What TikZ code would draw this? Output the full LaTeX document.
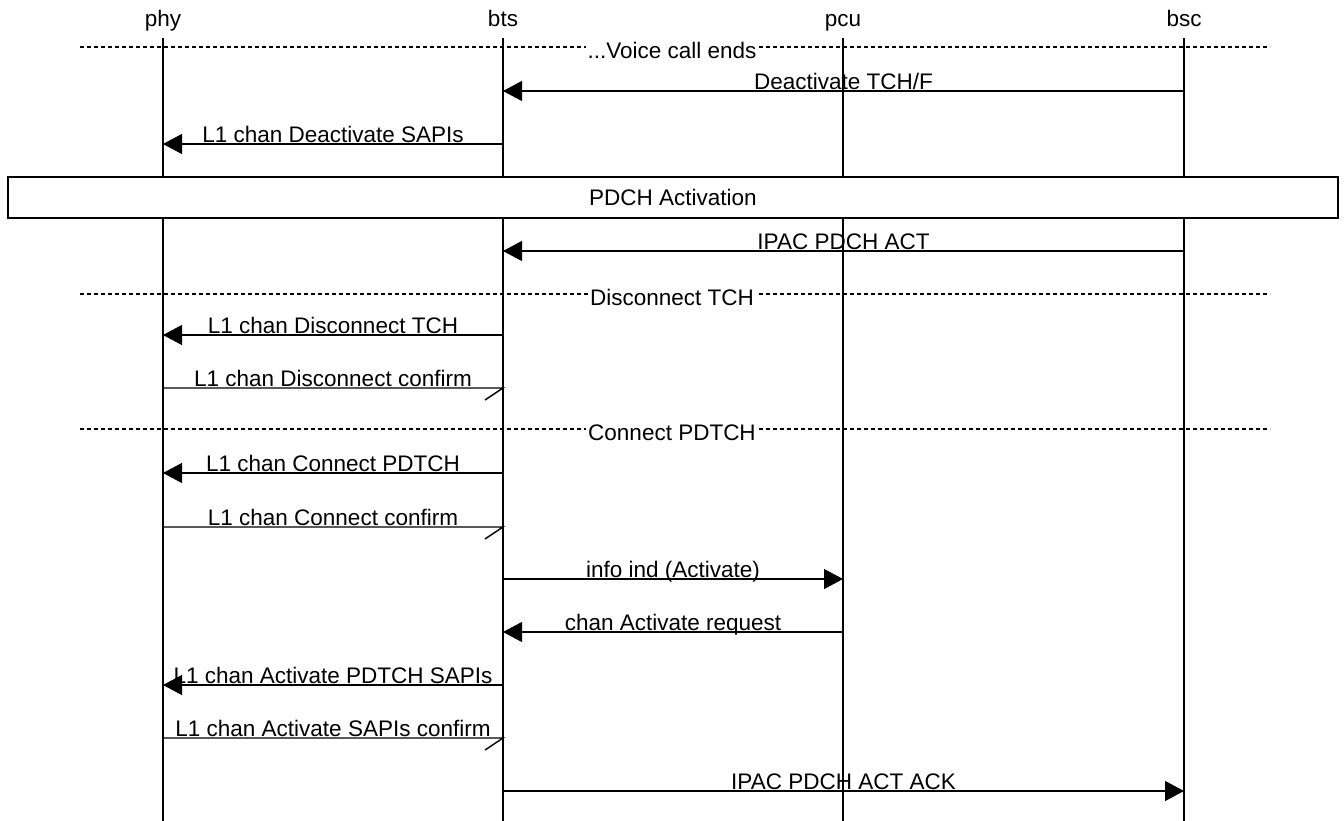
\documentclass[tikz,border=0pt]{standalone}
\usepackage{fontspec}
\setmainfont{Liberation Sans}
\usetikzlibrary{arrows.meta}
\begin{document}
\begin{tikzpicture}[x=1pt,y=-1pt,
  font=\fontsize{22.5pt}{27pt}\selectfont,
  head/.style={anchor=base,inner sep=0pt},
  life/.style={line width=1.6pt},
  sync/.style={line width=1.3pt,-{Triangle[length=19pt,width=20pt]}},
  async/.style={line width=1.4pt,line join=miter},
  lbl/.style={anchor=base,yshift=1.2pt,inner sep=0pt},
  dline/.style={line width=1.2pt,dash pattern=on 4pt off 3pt},
  dlbl/.style={fill=white,inner sep=2pt,yshift=-3.5pt},
  boxst/.style={draw,line width=1.6pt,fill=white,minimum width=1330pt,minimum height=41pt,inner sep=0pt}]
\useasboundingbox[fill=white] (0,0) rectangle (1344,821);
% headers
\node[head] (phy) at (163,27) {phy};
\node[head] (bts) at (503,27) {bts};
\node[head] (pcu) at (843,27) {pcu};
\node[head] (bsc) at (1184,27) {bsc};
\coordinate (top) at (0,38);
\coordinate (bot) at (0,821);
% lifelines
\foreach \n in {phy,bts,pcu,bsc}
  \draw[life] (\n |- top) -- (\n |- bot);
% rows
\coordinate (r1) at (0,91);
\coordinate (r2) at (0,144);
\coordinate (r3) at (0,251);
\coordinate (r4) at (0,335);
\coordinate (r5) at (0,388);
\coordinate (r6) at (0,473);
\coordinate (r7) at (0,527);
\coordinate (r8) at (0,579);
\coordinate (r9) at (0,632);
\coordinate (r10) at (0,685);
\coordinate (r11) at (0,738);
\coordinate (r12) at (0,791);
% separators
\coordinate (d1l) at (80,47);   \coordinate (d1r) at (1270,47);
\coordinate (d2l) at (80,294);  \coordinate (d2r) at (1270,294);
\coordinate (d3l) at (80,429);  \coordinate (d3r) at (1270,429);
\draw[dline] (d1l) -- (d1r);
\node[dlbl] (s1) at (672,47) {...Voice call ends};
\draw[dline] (d2l) -- (d2r);
\node[dlbl] (s2) at (672,294) {Disconnect TCH};
\draw[dline] (d3l) -- (d3r);
\node[dlbl] (s3) at (672,429) {Connect PDTCH};
% messages
\draw[sync] (bsc |- r1) -- node[lbl] {Deactivate TCH/F} (bts |- r1);
\draw[sync] (bts |- r2) -- node[lbl] {L1 chan Deactivate SAPIs} (phy |- r2);
\node[boxst] (act) at (673,197.5) {PDCH Activation};
\draw[sync] (bsc |- r3) -- node[lbl] {IPAC PDCH ACT} (bts |- r3);
\draw[sync] (bts |- r4) -- node[lbl] {L1 chan Disconnect TCH} (phy |- r4);
\draw[async] (phy |- r5) -- node[lbl] {L1 chan Disconnect confirm} (bts |- r5) -- ++(-18,12);
\draw[sync] (bts |- r6) -- node[lbl] {L1 chan Connect PDTCH} (phy |- r6);
\draw[async] (phy |- r7) -- node[lbl] {L1 chan Connect confirm} (bts |- r7) -- ++(-18,12);
\draw[sync] (bts |- r8) -- node[lbl] {info ind (Activate)} (pcu |- r8);
\draw[sync] (pcu |- r9) -- node[lbl] {chan Activate request} (bts |- r9);
\draw[sync] (bts |- r10) -- node[lbl] {L1 chan Activate PDTCH SAPIs} (phy |- r10);
\draw[async] (phy |- r11) -- node[lbl] {L1 chan Activate SAPIs confirm} (bts |- r11) -- ++(-18,12);
\draw[sync] (bts |- r12) -- node[lbl] {IPAC PDCH ACT ACK} (bsc |- r12);
\end{tikzpicture}
\end{document}
